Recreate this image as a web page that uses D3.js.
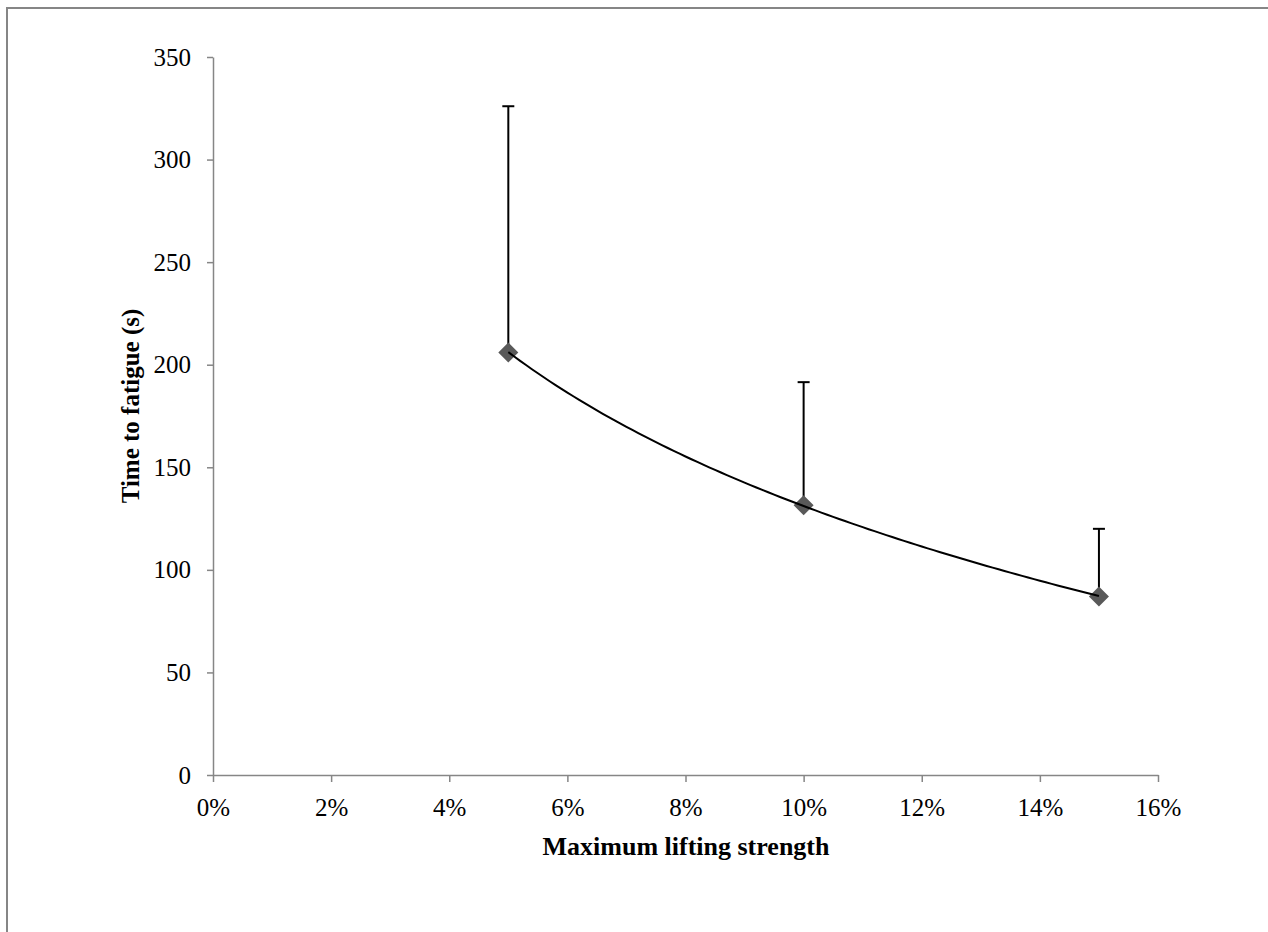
<!DOCTYPE html>
<html>
<head>
<meta charset="utf-8">
<script src="https://cdn.jsdelivr.net/npm/d3@7"></script>
<style>
  body { margin: 0; background: #fff; }
  text { font-family: "Liberation Serif", "Times New Roman", serif; fill: #000; }
</style>
</head>
<body>
<svg id="chart" width="1268" height="932"></svg>
<script>
// strength levels (fraction of max lifting strength)
var strength = [0.05, 0.10, 0.15];
// mean time to fatigue (s)
var fatigueMean = [206, 131.5, 87];
// mean + SD (upper error bar end)
var fatigueUpper = [326, 191.5, 120];

var xTicks = [0, 0.02, 0.04, 0.06, 0.08, 0.10, 0.12, 0.14, 0.16];
var yTicks = [0, 50, 100, 150, 200, 250, 300, 350];

var svg = d3.select("#chart");

// outer frame (right and bottom edges fall outside the picture)
svg.append("rect")
  .attr("x", 7).attr("y", 8).attr("width", 1270).attr("height", 940)
  .attr("fill", "none").attr("stroke", "#868686").attr("stroke-width", 2);

var x = d3.scaleLinear().domain([0, 0.16]).range([213, 1158]);
var y = d3.scaleLinear().domain([0, 350]).range([775, 57]);

var axisColor = "#868686";

var gx = svg.append("g").attr("transform", "translate(0,775)")
  .call(d3.axisBottom(x).tickValues(xTicks).tickFormat(d3.format(".0%")).tickSizeInner(7).tickSizeOuter(0));
var gy = svg.append("g").attr("transform", "translate(213,0)")
  .call(d3.axisLeft(y).tickValues(yTicks).tickSizeInner(6).tickSizeOuter(0).tickPadding(16));

[gx, gy].forEach(g => {
  g.select(".domain").attr("stroke", axisColor).attr("stroke-width", 1.5);
  g.selectAll(".tick line").attr("stroke", axisColor).attr("stroke-width", 1.5);
  g.selectAll(".tick text").style("font-size", "25px").attr("fill", "#000");
});
gx.selectAll(".tick text").attr("y", 41).attr("dy", 0);

// axis titles
svg.append("text")
  .attr("x", 686).attr("y", 855)
  .attr("text-anchor", "middle")
  .style("font-size", "26px").style("font-weight", "bold")
  .text("Maximum lifting strength");

svg.append("text")
  .attr("transform", "translate(139,406) rotate(-90)")
  .attr("text-anchor", "middle")
  .style("font-size", "25px").style("font-weight", "bold")
  .text("Time to fatigue (s)");

// logarithmic trendline fitted to the means (least squares on ln x)
var lx = strength.map(Math.log);
var mx = d3.mean(lx), my = d3.mean(fatigueMean);
var b = d3.sum(lx.map((v, i) => (v - mx) * (fatigueMean[i] - my))) / d3.sum(lx.map(v => (v - mx) * (v - mx)));
var a = my - b * mx;
var trend = d3.range(0, 101).map(i => {
  var s = strength[0] + (strength[2] - strength[0]) * i / 100;
  return [s, a + b * Math.log(s)];
});

// error bars (upper only)
var bars = svg.append("g");
strength.forEach((s, i) => {
  bars.append("line")
    .attr("x1", x(s)).attr("x2", x(s))
    .attr("y1", y(fatigueMean[i])).attr("y2", y(fatigueUpper[i]))
    .attr("stroke", "#000").attr("stroke-width", 2);
  bars.append("line")
    .attr("x1", x(s) - 6).attr("x2", x(s) + 6)
    .attr("y1", y(fatigueUpper[i])).attr("y2", y(fatigueUpper[i]))
    .attr("stroke", "#000").attr("stroke-width", 2);
});

// diamond markers
var r = 10;
svg.append("g").selectAll("path")
  .data(strength)
  .join("path")
  .attr("transform", (d, i) => "translate(" + x(d) + "," + y(fatigueMean[i]) + ")")
  .attr("d", "M0," + (-r) + "L" + r + ",0L0," + r + "L" + (-r) + ",0Z")
  .attr("fill", "#595959");

svg.append("path")
  .datum(trend)
  .attr("d", d3.line().x(d => x(d[0])).y(d => y(d[1])))
  .attr("fill", "none").attr("stroke", "#000").attr("stroke-width", 2);
</script>
</body>
</html>
